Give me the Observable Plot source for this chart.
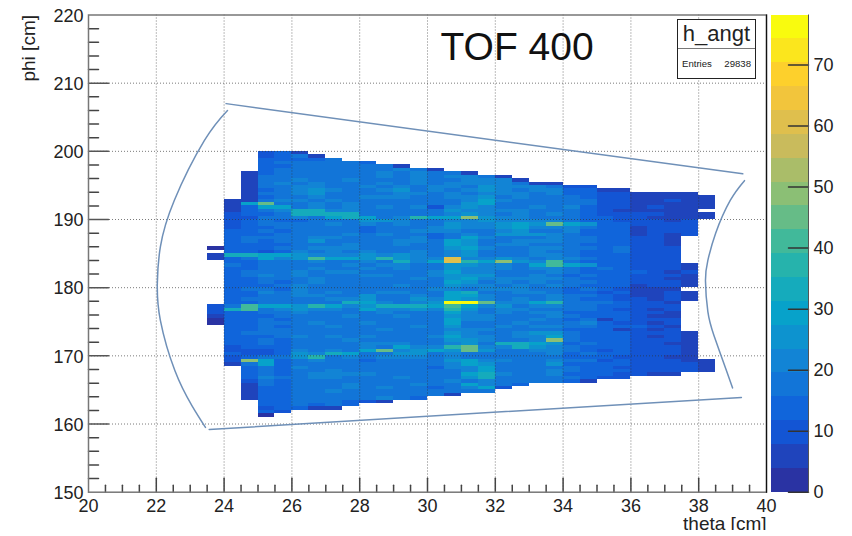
<!DOCTYPE html>
<html>
<head>
<meta charset="utf-8">
<script src="https://cdn.jsdelivr.net/npm/d3@7"></script>
<script src="https://cdn.jsdelivr.net/npm/@observablehq/plot@0.6"></script>
<style>
html,body{margin:0;padding:0;background:#fff;width:852px;height:536px;overflow:hidden}
#wrap{position:relative;width:852px;height:536px;font-family:"Liberation Sans",sans-serif}
#wrap svg{display:block}
#bar{position:absolute;left:771px;top:0}
#stats{position:absolute;left:677px;top:19px;width:77px;height:58px;border:1px solid #222;background:#fff;color:#222;box-sizing:content-box}
#stats .name{height:28px;line-height:27px;text-align:center;font-size:22px;border-bottom:1.5px solid #777}
#stats .row{display:flex;justify-content:space-between;padding:9px 4px 0 4px;font-size:9.6px}
</style>
</head>
<body>
<div id="wrap"></div>
<script>
const chartTitle = "TOF 400";
const xLabel = "theta [cm]";
const yLabel = "phi [cm]";
const histName = "h_angt";
const entries = "29838";
const xMajor = [20,22,24,26,28,30,32,34,36,38,40];
const xMinor = [20.5,21,21.5,22.5,23,23.5,24.5,25,25.5,26.5,27,27.5,28.5,29,29.5,30.5,31,31.5,32.5,33,33.5,34.5,35,35.5,36.5,37,37.5,38.5,39,39.5];
const yMajor = [150,160,170,180,190,200,210,220];
const yMinor = [152,154,156,158,162,164,166,168,172,174,176,178,182,184,186,188,192,194,196,198,202,204,206,208,212,214,216,218];
const zTicks = [0,10,20,30,40,50,60,70];
const zMax = 78.2;
const contourCount = 20;
const thetaStart = 23.5, phiStart = 200, binSize = 0.5;

// counts per bin: one row per phi bin (top to bottom), one entry per theta bin from 23.5; 0 = empty
const cellRows = [
[0,0,0,11,13,4],
[0,0,0,11,15,16,5],
[0,0,0,13,14,15,13,17],
[0,0,0,15,16,18,16,17,16,15],
[0,0,0,12,15,19,17,16,17,19,18,6],
[0,0,0,14,17,18,18,17,18,18,17,20,16,5],
[0,0,4,14,18,19,19,18,19,19,21,19,22,18,19,5],
[0,0,4,16,19,19,18,19,18,18,20,18,22,19,21,20,18,5],
[0,0,5,16,17,20,19,18,20,19,18,17,20,18,19,22,20,20,5],
[0,0,5,18,20,18,21,19,19,17,20,19,21,18,20,20,22,22,18,6,5],
[0,0,7,16,17,20,22,18,18,20,19,21,19,20,22,19,24,21,20,21,19,11,10],
[0,0,6,14,19,22,24,21,19,18,20,24,18,21,19,21,25,20,18,22,20,13,12,7,7],
[0,0,6,17,16,21,25,19,17,19,18,22,20,17,21,19,22,23,21,19,21,15,14,8,8,5,6,5,4],
[0,0,5,14,18,19,20,18,19,21,20,20,17,18,20,22,27,19,20,18,16,16,15,9,9,5,5,6,6,5],
[0,5,5,16,20,20,19,20,18,17,19,18,16,19,18,23,29,20,18,19,17,17,16,8,9,6,6,8,6,5],
[0,6,28,44,19,18,20,17,21,19,17,19,18,17,19,24,28,18,19,17,19,18,17,11,10,7,7,7,6,6],
[0,6,14,28,30,17,21,18,22,18,20,18,20,11,21,26,22,19,17,20,18,20,15,10,8,6,8,6,5,6],
[0,7,13,16,20,32,32,22,20,16,19,17,19,17,25,22,21,20,21,19,18,19,14,11,6,6,5,7,5,0],
[0,8,12,15,16,32,32,33,34,19,16,19,18,18,22,24,20,19,20,17,22,16,13,10,11,9,8,5,4,5],
[0,9,11,17,18,20,19,30,32,31,18,20,36,28,28,50,24,21,20,19,19,16,15,12,11,8,4,7,5,5],
[0,10,13,16,14,15,16,17,18,26,24,20,18,17,21,22,26,20,21,22,20,16,14,12,10,9,8,7,9,0],
[0,10,14,18,17,18,19,20,17,22,19,22,19,18,26,20,22,26,28,24,45,30,24,13,12,8,9,10,9,0],
[0,9,12,15,19,16,17,16,16,15,17,18,19,20,24,22,20,27,28,23,21,22,17,14,13,7,9,8,10,0],
[0,12,15,17,15,18,18,19,19,14,18,19,20,20,21,18,19,22,25,19,19,20,15,15,14,6,8,9,9,0],
[0,14,14,15,16,17,18,17,20,16,20,18,17,14,19,20,18,26,26,24,22,16,15,13,14,7,10,7,9,0],
[0,13,16,16,17,18,21,20,18,17,18,19,20,15,19,28,22,18,18,19,21,17,18,12,13,9,10,6,0,0],
[0,15,17,15,16,17,24,19,16,19,16,22,22,17,30,24,19,16,20,22,23,16,17,14,15,10,9,7,0,0],
[0,14,15,14,15,19,18,18,23,18,17,20,18,18,28,26,18,20,22,18,19,18,15,15,14,9,11,6,0,0],
[3,13,13,15,18,16,20,22,20,18,16,18,19,16,26,28,22,18,19,22,20,19,16,13,16,10,9,8,0,0],
[0,14,12,11,15,20,18,21,19,20,19,19,20,19,22,24,18,19,17,20,18,17,15,15,16,9,10,9,0,0],
[5,33,32,28,30,24,22,23,21,26,22,24,20,17,22,26,19,19,18,21,20,16,14,14,13,11,10,8,0,0],
[5,14,16,30,20,26,42,30,28,26,36,26,22,20,60,22,20,24,20,18,20,20,16,13,14,11,9,10,0,0],
[0,13,15,18,17,18,20,19,18,20,18,32,20,28,62,36,28,50,26,22,42,18,15,14,13,10,10,9,0,0],
[0,16,14,17,18,17,18,17,20,19,22,21,18,19,24,24,22,21,18,30,40,28,26,15,13,10,8,9,7,0],
[0,15,14,19,16,19,20,19,18,21,17,20,16,18,26,23,20,22,19,23,22,16,14,16,15,11,9,8,7,0],
[0,14,16,16,17,20,17,20,21,18,19,18,19,20,28,22,21,19,17,19,20,18,15,15,13,12,8,7,8,0],
[0,13,17,20,18,21,19,18,19,20,20,19,17,20,25,24,24,18,18,22,19,15,16,13,12,9,10,8,7,0],
[0,12,15,18,16,18,21,19,18,17,18,16,20,18,24,28,20,21,20,23,21,17,14,12,13,8,9,7,6,0],
[0,14,14,16,15,19,20,17,19,19,17,18,18,19,28,26,19,20,17,20,18,16,17,14,15,10,8,9,6,0],
[0,15,13,14,16,22,18,16,17,18,19,20,19,17,26,20,20,18,22,19,20,18,15,15,14,7,9,8,5,0],
[0,13,16,17,15,20,19,18,19,19,16,18,17,20,23,18,21,22,20,18,19,14,16,12,11,6,7,6,0,0],
[0,14,15,20,18,23,18,20,18,17,21,20,18,19,28,32,18,19,21,20,19,15,14,11,13,7,6,11,5,0],
[0,13,14,18,17,21,20,19,17,24,18,19,22,18,30,28,22,17,19,19,21,18,16,14,9,6,6,10,4,0],
[0,12,16,19,16,19,19,21,20,26,19,18,24,20,30,24,20,19,20,18,22,16,15,13,10,10,7,8,5,0],
[0,14,15,16,18,18,17,18,34,28,20,19,20,26,78,76,46,22,20,30,36,17,16,16,14,11,9,7,0,0],
[8,16,42,30,28,26,38,28,22,26,34,34,34,28,42,28,22,24,19,21,23,19,17,14,13,10,8,8,0,0],
[8,33,42,16,20,24,22,21,19,28,20,22,24,22,38,24,19,22,21,18,19,16,18,15,11,9,7,9,0,0],
[8,13,14,17,17,20,18,19,18,17,20,18,19,17,28,22,18,20,19,20,20,15,15,13,14,9,9,6,0,0],
[7,14,13,14,16,17,19,17,20,19,18,20,17,18,24,20,21,18,18,17,21,18,14,13,14,9,6,7,0,0],
[3,12,15,17,15,16,17,18,19,17,17,19,18,19,30,23,20,17,19,20,18,14,16,7,14,10,8,8,0,0],
[3,13,14,18,17,18,20,19,17,20,19,18,18,16,28,16,19,19,20,18,19,16,22,14,11,9,7,8,0,0],
[0,14,13,17,15,17,16,20,18,18,18,17,20,18,26,18,17,20,18,22,21,17,18,13,12,12,8,7,0,0],
[0,12,15,16,18,19,18,16,19,19,20,18,19,19,22,21,21,17,17,19,18,14,14,15,7,10,7,9,0,0],
[0,13,16,18,16,18,19,18,17,17,16,17,18,17,24,22,18,19,20,24,26,17,15,14,14,9,9,8,5,0],
[0,12,14,15,17,20,17,20,18,20,19,19,17,20,30,22,20,16,20,21,28,19,13,13,13,10,6,9,5,0],
[0,14,15,17,15,19,18,18,20,18,18,16,19,18,24,24,22,18,16,22,50,16,15,15,14,11,9,8,6,0],
[0,13,13,16,14,17,16,19,16,22,20,20,17,19,23,26,19,32,34,28,26,14,16,14,12,10,10,7,6,0],
[0,10,12,15,13,18,17,18,17,21,16,30,22,20,38,44,22,21,34,24,22,17,15,13,13,8,9,8,6,0],
[0,11,10,8,14,20,18,20,19,30,46,22,26,28,24,44,24,18,19,22,21,16,14,11,12,9,10,9,7,0],
[0,12,9,9,15,27,22,34,30,18,18,24,24,18,21,19,19,17,17,18,20,15,16,14,13,8,8,9,6,0],
[0,10,13,16,16,26,36,19,21,19,20,20,22,17,22,18,16,19,18,17,16,13,12,14,11,10,11,7,6,0],
[0,8,48,28,12,19,20,18,18,13,19,18,17,19,26,28,21,20,18,19,22,18,16,9,13,9,10,8,7,4],
[0,7,16,28,15,18,17,17,19,19,16,17,16,16,23,28,26,18,17,18,24,15,15,13,14,10,8,9,8,4],
[0,0,14,17,13,20,16,17,18,18,18,19,19,15,20,22,28,17,18,17,19,16,14,12,11,8,11,10,9,4],
[0,0,13,17,13,18,17,20,17,16,17,18,18,17,19,20,30,19,19,18,22,17,13,15,13,9,9,8,8,4],
[0,0,12,17,15,17,22,22,20,20,16,17,19,18,18,30,32,21,17,16,20,14,15,13,10,8,7,6],
[0,0,15,20,16,19,21,20,19,18,19,20,18,17,18,26,34,19,18,17,17,16,15,11,10],
[0,0,10,16,14,16,17,18,17,17,19,19,17,18,20,18,22,18,18,17,16,13,5],
[0,0,7,17,14,17,18,19,20,19,18,17,20,16,17,30,22,16,12],
[0,0,6,15,15,18,18,17,22,18,20,18,18,15,17,22,30,8],
[0,0,6,14,14,19,16,20,19,18,17,19,18,17,16,18,19],
[0,0,5,13,12,18,17,17,17,19,16,17,19,16,5],
[0,0,5,15,14,17,18,16,18,17,20,18,15],
[0,0,0,12,13,18,16,19,15,9,5],
[0,0,0,13,12,17,12,16,14],
[0,0,0,11,12,14,6,5],
[0,0,0,14,9],
[0,0,0,3]
];

// detector outline
const outlineTop = [{theta:24.06,phi:207.0},{theta:39.3,phi:196.7}];
const outlineBottom = [{theta:23.56,phi:159.2},{theta:39.26,phi:163.9}];
const arcLeft = [{theta:24.1,phi:206},{theta:23.42,phi:201.6},{theta:22.53,phi:192.8},{theta:22.12,phi:186},{theta:22.03,phi:180.6},{theta:22.12,phi:175.2},{theta:22.55,phi:167.8},{theta:23.05,phi:162.7},{theta:23.45,phi:159.5}];
const arcRight = [{theta:39.35,phi:195.7},{theta:38.93,phi:192.8},{theta:38.5,phi:188},{theta:38.27,phi:184},{theta:38.2,phi:181},{theta:38.27,phi:176.5},{theta:38.45,phi:173},{theta:38.82,phi:167.8},{theta:39.0,phi:165.3}];

// ROOT kBird palette as it appears in the picture
const birdStops = [0,0.125,0.25,0.375,0.5,0.625,0.75,0.875,1];
const birdR = [0.165,0.0592,0.0780,0.0232,0.1802,0.5301,0.8186,0.9956,0.9764];
const birdG = [0.200,0.3599,0.5041,0.6419,0.7178,0.7492,0.7328,0.7862,0.9832];
const birdB = [0.640,0.8684,0.8385,0.7914,0.6425,0.4662,0.3499,0.1968,0.0539];

const birdAt = t => {
  const i = Math.min(7, Math.floor(t * 8));
  const f = (t - birdStops[i]) / 0.125;
  const c = a => Math.round(255 * (a[i] + (a[i + 1] - a[i]) * f));
  return `rgb(${c(birdR)},${c(birdG)},${c(birdB)})`;
};
const levelColors = d3.range(contourCount).map(i => birdAt(i / (contourCount - 1)));
const bandSize = zMax / contourCount;
const thresholds = d3.range(1, contourCount).map(i => i * bandSize);
const colorScale = {type: "threshold", domain: thresholds, range: levelColors};

const cells = cellRows.flatMap((row, i) => row.map((v, j) => ({
  x1: thetaStart + j * binSize, x2: thetaStart + (j + 1) * binSize,
  y1: phiStart - (i + 1) * binSize, y2: phiStart - i * binSize, v
}))).filter(d => d.v > 0);
const bands = d3.range(contourCount).map(i => ({y1: i * bandSize, y2: (i + 1) * bandSize, v: (i + 0.5) * bandSize}));

const tickShape = {draw(ctx, l) { ctx.moveTo(0, 0); ctx.lineTo(0, -l); }};
const ink = "#222";
const curve = "#6f90b8";
const fontStyle = {background: "transparent", fontFamily: "'Liberation Sans', sans-serif", color: ink};

const main = Plot.plot({
  width: 852, height: 530,
  marginLeft: 88, marginRight: 86, marginTop: 14.5, marginBottom: 38.3,
  style: fontStyle,
  x: {domain: [20, 40]},
  y: {domain: [150, 220]},
  color: colorScale,
  marks: [
    Plot.rect(cells, {x1: "x1", x2: "x2", y1: "y1", y2: "y2", fill: "v", shapeRendering: "crispEdges"}),
    Plot.ruleX(xMajor.slice(1, -1), {stroke: "#333", strokeDasharray: "1,2", strokeOpacity: 0.65}),
    Plot.ruleY(yMajor.slice(1, -1), {stroke: "#333", strokeDasharray: "1,2", strokeOpacity: 0.65}),
    Plot.line(outlineTop, {x: "theta", y: "phi", stroke: curve, strokeWidth: 1.5}),
    Plot.line(outlineBottom, {x: "theta", y: "phi", stroke: curve, strokeWidth: 1.5}),
    Plot.line(arcLeft, {x: "theta", y: "phi", stroke: curve, strokeWidth: 1.5, curve: "natural"}),
    Plot.line(arcRight, {x: "theta", y: "phi", stroke: curve, strokeWidth: 1.5, curve: "natural"}),
    Plot.vector(xMajor.slice(1, -1), {x: d => d, frameAnchor: "bottom", length: 14, anchor: "start", shape: tickShape, stroke: "#444"}),
    Plot.vector(xMinor, {x: d => d, frameAnchor: "bottom", length: 7, anchor: "start", shape: tickShape, stroke: "#444"}),
    Plot.vector(yMajor.slice(1, -1), {y: d => d, frameAnchor: "left", rotate: 90, length: 20, anchor: "start", shape: tickShape, stroke: "#555"}),
    Plot.vector(yMinor, {y: d => d, frameAnchor: "left", rotate: 90, length: 10, anchor: "start", shape: tickShape, stroke: "#444"}),
    Plot.frame({stroke: "#777", strokeWidth: 1.5}),
    Plot.frame({anchor: "right", stroke: "#111", strokeWidth: 1.2}),
    Plot.axisX(xMajor, {anchor: "bottom", tickSize: 0, tickPadding: 7, fontSize: 18, label: null, fill: ink, tickFormat: d => String(d)}),
    Plot.axisY(yMajor, {anchor: "left", tickSize: 0, tickPadding: 5, dy: 1, fontSize: 18, label: null, fill: ink, tickFormat: d => String(d)}),
    Plot.text([yLabel], {frameAnchor: "top-left", rotate: -90, textAnchor: "end", lineAnchor: "middle", dx: -60, dy: 0, fontSize: 19, fill: ink}),
    Plot.text([xLabel], {frameAnchor: "bottom-right", textAnchor: "end", lineAnchor: "middle", dy: 32, fontSize: 19, fill: ink}),
    Plot.text([chartTitle], {frameAnchor: "top-left", textAnchor: "start", lineAnchor: "middle", dx: 352, dy: 33, fontSize: 39, fill: "#111"})
  ]
});

const bar = Plot.plot({
  width: 81, height: 530,
  marginLeft: 0, marginRight: 44, marginTop: 14.5, marginBottom: 38.3,
  style: fontStyle,
  y: {domain: [0, zMax]},
  color: colorScale,
  marks: [
    Plot.rect(bands, {y1: "y1", y2: "y2", fill: "v", shapeRendering: "crispEdges"}),
    Plot.vector(zTicks, {y: d => d, frameAnchor: "right", rotate: -90, length: 20, anchor: "start", shape: tickShape, stroke: "#333"}),
    Plot.frame({anchor: "right", stroke: "#555", strokeWidth: 1}),
    Plot.axisY(zTicks, {anchor: "right", tickSize: 0, tickPadding: 5, fontSize: 18, label: null, fill: ink, tickFormat: d => String(d)})
  ]
});
bar.id = "bar";

const wrap = document.getElementById("wrap");
wrap.append(main, bar);
const stats = document.createElement("div");
stats.id = "stats";
stats.innerHTML = `<div class="name">${histName}</div><div class="row"><span>Entries</span><span>${entries}</span></div>`;
wrap.append(stats);
</script>
</body>
</html>
